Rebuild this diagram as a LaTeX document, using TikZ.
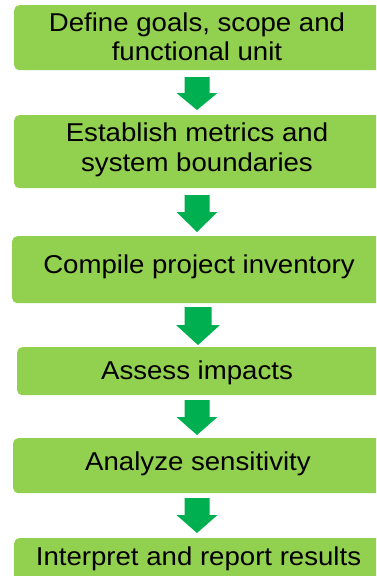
\documentclass[tikz,border=0pt]{standalone}
\usepackage{fontspec}
\setmainfont{Liberation Sans}[FakeStretch=1.07]
\definecolor{boxgreen}{HTML}{92D050}
\definecolor{arrowgreen}{HTML}{00B050}
\tikzset{
  stepbox/.style={fill=boxgreen, draw=none, rounded corners=5pt, inner sep=0pt, anchor=north west, minimum width=380pt},
  steptext/.style={inner sep=0pt, anchor=base, font=\fontsize{25.8}{29}\selectfont, text=black},
  blockarrow/.style={fill=arrowgreen, draw=none}
}
\newcommand{\downblock}[5]{% coordinate name, shaft half, head half, head start, tip
  \fill[blockarrow] (#1) ++(-#2,0) -- ++(2*#2,0) -- ++(0,-#4) -- ++(#3-#2,0)
     -- ++(-#3,-#5+#4) -- ++(-#3,#5-#4) -- ++(#3-#2,0) -- cycle;}
\begin{document}
\begin{tikzpicture}[x=1pt,y=1pt]
\useasboundingbox (0,0) rectangle (376,-576);
\clip (0,0) rectangle (376,-576);
% boxes
\node[stepbox, minimum height=65pt] (b1) at (14,-5) {};
\node[stepbox, minimum height=73pt] (b2) at (14,-115) {};
\node[stepbox, minimum height=67pt] (b3) at (12,-236) {};
\node[stepbox, minimum height=48pt] (b4) at (17,-347) {};
\node[stepbox, minimum height=55pt] (b5) at (13,-438) {};
\node[stepbox, minimum height=60pt] (b6) at (14,-538) {};
% texts
\node[steptext] (t1a) at (197,-31.7) {Define goals, scope and};
\node[steptext] (t1b) at (197,-60.5) {functional unit};
\node[steptext] (t2a) at (197,-141.7) {Establish metrics and};
\node[steptext] (t2b) at (197,-171) {system boundaries};
\node[steptext] (t3) at (199,-273) {Compile project inventory};
\node[steptext] (t4) at (197,-379) {Assess impacts};
\node[steptext] (t5) at (198,-470) {Analyze sensitivity};
\node[steptext] (t6) at (198.5,-565) {Interpret and report results};
% arrows
\coordinate (a1) at (197,-77);
\coordinate (a2) at (197,-195);
\coordinate (a3) at (198,-307);
\coordinate (a4) at (197,-400);
\coordinate (a5) at (197,-498);
\downblock{a1}{12.5}{20.5}{16}{33}
\downblock{a2}{12.5}{20.5}{17}{37}
\downblock{a3}{13.5}{22}{18}{38}
\downblock{a4}{12.5}{20.5}{17}{35}
\downblock{a5}{12.5}{20.5}{17}{35}
\end{tikzpicture}
\end{document}
